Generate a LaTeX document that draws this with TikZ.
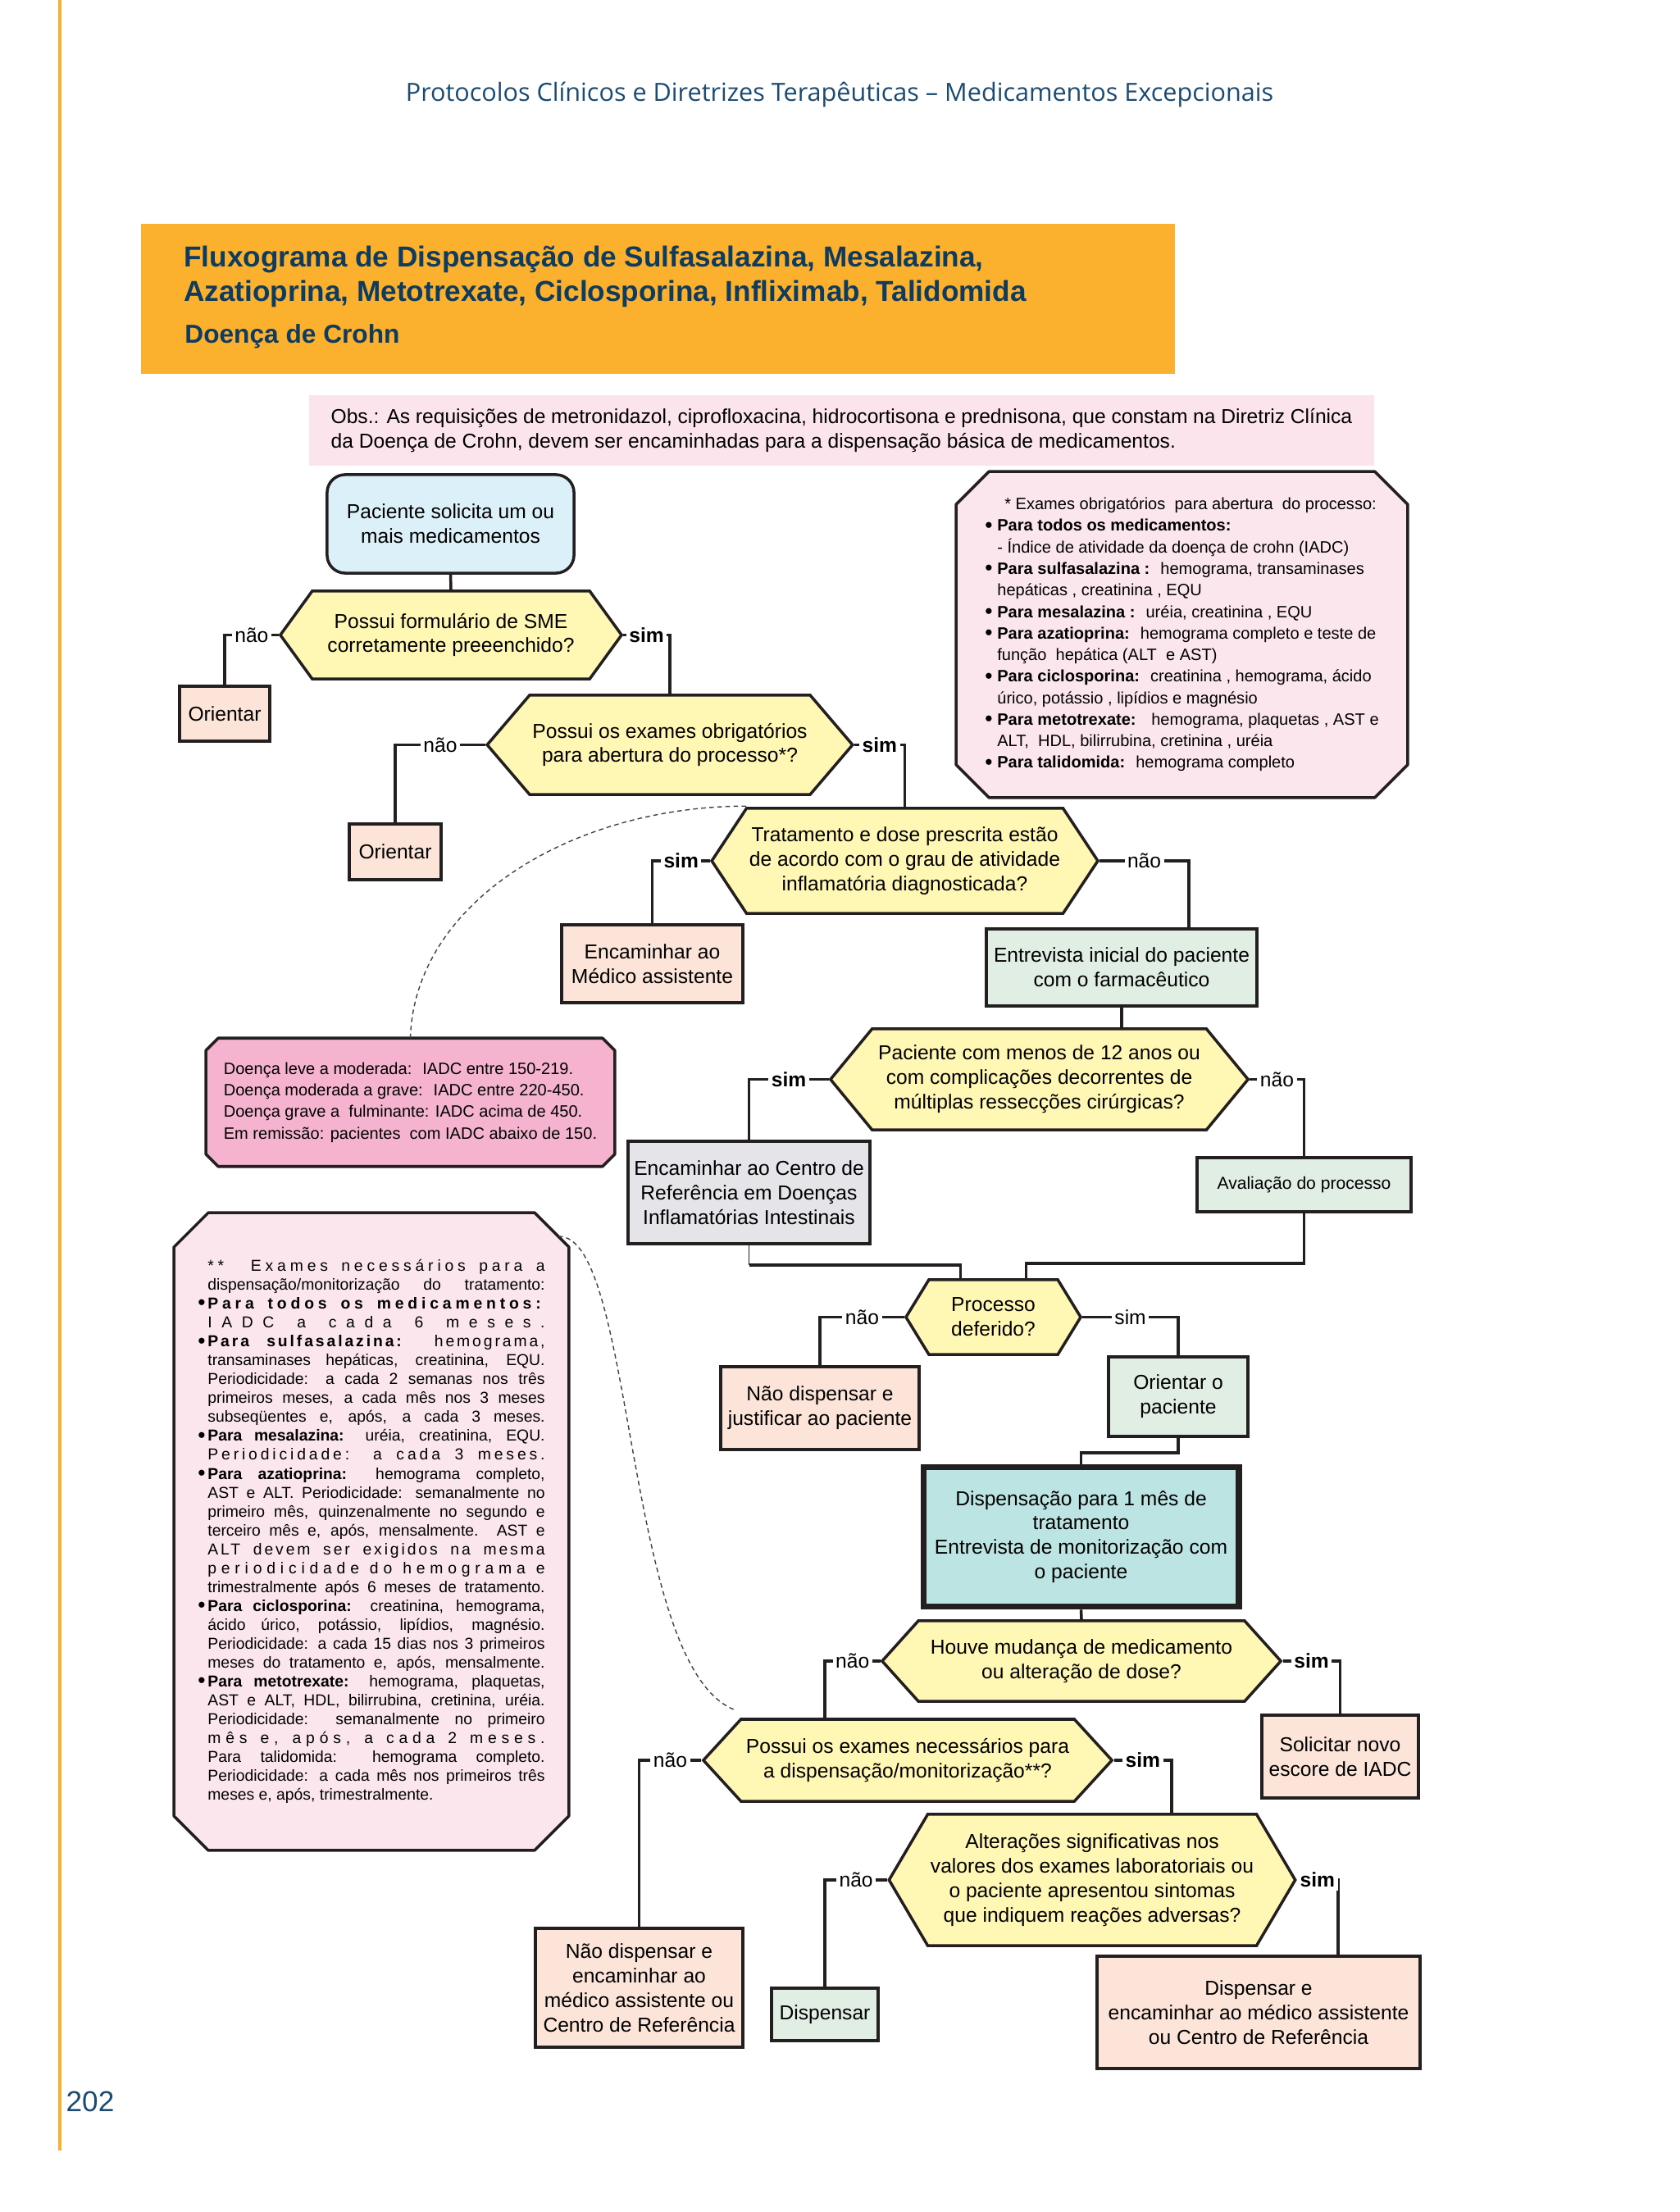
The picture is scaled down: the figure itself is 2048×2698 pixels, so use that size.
\documentclass[tikz,border=0pt]{standalone}
\usepackage{fontspec}
\setmainfont{Liberation Sans}
\newfontfamily\headfont{Open Sans}
\usetikzlibrary{shapes.symbols, calc, backgrounds}

\definecolor{ink}{HTML}{231F20}
\definecolor{navy}{HTML}{0F3B5F}
\definecolor{headblue}{HTML}{1B4A72}
\definecolor{orangebar}{HTML}{FBB12D}
\definecolor{obspink}{HTML}{FCE4EC}
\definecolor{startblue}{HTML}{DCF0FA}
\definecolor{askyellow}{HTML}{FFF7B3}
\definecolor{peach}{HTML}{FCE4D8}
\definecolor{mint}{HTML}{E0EEE4}
\definecolor{greybox}{HTML}{E4E4E9}
\definecolor{tealbox}{HTML}{BCE4E2}
\definecolor{notepink}{HTML}{FCE6EE}
\definecolor{iadcpink}{HTML}{F5B3CF}

\newcommand{\nodefont}{\fontsize{7}{8.5}\selectfont}
\newcommand{\notefont}{\fontsize{5.7}{7.47}\selectfont}
\newcommand{\tinynotefont}{\fontsize{5.5}{6.55}\selectfont}
\newcommand{\bigdot}{\raisebox{-0.12ex}{\fontsize{7.5}{7.5}\selectfont\textbullet}}
\newcommand{\noteitem}[1]{\makebox[0.12cm][l]{\bigdot}\makebox[4.11cm][s]{#1}}
\newcommand{\noteline}[1]{\hspace*{0.12cm}\makebox[4.11cm][s]{#1}}
\newcommand{\spaced}[2]{{\addfontfeature{LetterSpace=#1}#2}}
\newcommand{\examitem}[1]{\makebox[0.15cm][l]{\bigdot}#1}
\newcommand{\examline}[1]{\hspace*{0.15cm}#1}
% octagon round a named note node: name, cut, fill
\newcommand{\cutbox}[3]{%
  \filldraw[fill=#3, draw=ink, line width=1pt, line join=round]
    ($(#1.north west)+(#2,0)$) -- ($(#1.north east)+(-#2,0)$) -- ($(#1.north east)+(0,#2)$)
    -- ($(#1.south east)+(0,-#2)$) -- ($(#1.south east)+(-#2,0)$) -- ($(#1.south west)+(#2,0)$)
    -- ($(#1.south west)+(0,-#2)$) -- ($(#1.north west)+(0,#2)$) -- cycle;}

\tikzset{
  base/.style={draw=ink, line width=1pt, font=\nodefont, align=center, inner sep=1pt},
  startbox/.style={base, rectangle, rounded corners=0.22cm, fill=startblue},
  procbox/.style={base, rectangle, fill=peach},
  mintbox/.style={base, rectangle, fill=mint},
  decision/.style={base, shape=signal, signal to=west and east, signal pointer angle=100, fill=askyellow},
  notetext/.style={rectangle, inner sep=0pt, align=left},
  link/.style={draw=ink, line width=1pt},
  simlabel/.style={fill=white, inner sep=1pt, font=\nodefont\bfseries},
  naolabel/.style={fill=white, inner sep=1pt, font=\nodefont},
  hint/.style={draw=ink!85, line width=0.4pt, dash pattern=on 1.6pt off 1.2pt},
}

\begin{document}
\begin{tikzpicture}[x=0.01cm, y=-0.01cm]
    % Page frame
    \useasboundingbox (0,0) rectangle (2048,2698);
    \draw[orangebar, line width=0.04cm] (73,0) -- (73,2623);
    \node[font=\headfont\fontsize{8.7}{11}\selectfont, text=headblue] (header) at (1024,115) {Protocolos Clínicos e Diretrizes Terapêuticas – Medicamentos Excepcionais};
    \node[font=\fontsize{10}{12}\selectfont, text=headblue] (pagenum) at (110,2563) {202};

    % Title block
    \node[fill=orangebar, minimum width=12.61cm, minimum height=1.83cm] (titlebox) at (802.5,364.5) {};
    \node[anchor=west, align=left, text=navy, font=\fontsize{10}{12}\selectfont\bfseries] (title) at (212,337.5) {Fluxograma de Dispensação de Sulfasalazina, Mesalazina,\\Azatioprina, Metotrexate, Ciclosporina, Infliximab, Talidomida};
    \node[anchor=west, text=navy, font=\fontsize{9}{11}\selectfont\bfseries] (subtitle) at (213,410) {Doença de Crohn};

    % Observation
    \node[fill=obspink, minimum width=12.99cm, minimum height=0.86cm, align=left, font=\nodefont] (obs) at (1026.5,525) {\makebox[12.45cm][s]{Obs.: As requisições de metronidazol, ciprofloxacina, hidrocortisona e prednisona, que constam na Diretriz Clínica}\\da Doença de Crohn, devem ser encaminhadas para a dispensação básica de medicamentos.};

    % Flow nodes
    \node[startbox, minimum width=3.01cm, minimum height=1.20cm] (start) at (549.5,639) {Paciente solicita um ou\\mais medicamentos};
    \node[decision, signal pointer angle=108, minimum width=4.16cm, minimum height=1.07cm] (d1) at (550,774.5) {Possui formulário de SME\\corretamente preeenchido?};
    \node[procbox, minimum width=1.10cm, minimum height=0.67cm] (or1) at (274,870.5) {Orientar};
    \node[decision, signal pointer angle=99, minimum width=4.44cm, minimum height=1.21cm] (d2) at (817,908.5) {Possui os exames obrigatórios\\para abertura do processo*?};
    \node[procbox, minimum width=1.12cm, minimum height=0.68cm] (or2) at (482,1039) {Orientar};
    \node[decision, signal pointer angle=113, minimum width=4.69cm, minimum height=1.28cm] (d3) at (1103.5,1050) {Tratamento e dose prescrita estão\\de acordo com o grau de atividade\\inflamatória diagnosticada?};
    \node[procbox, minimum width=2.21cm, minimum height=0.95cm] (medico) at (795.5,1175.5) {Encaminhar ao\\Médico assistente};
    \node[mintbox, minimum width=3.30cm, minimum height=0.94cm] (entrev) at (1368,1180) {Entrevista inicial do paciente\\com o farmacêutico};
    \node[decision, signal pointer angle=101, minimum width=5.09cm, minimum height=1.23cm] (d4) at (1267.5,1316.5) {Paciente com menos de 12 anos ou\\com complicações decorrentes de\\múltiplas ressecções cirúrgicas?};
    \node[base, fill=greybox, minimum width=2.95cm, minimum height=1.25cm] (centro) at (913.5,1454.5) {Encaminhar ao Centro de\\Referência em Doenças\\Inflamatórias Intestinais};
    \node[mintbox, font=\fontsize{6}{7.5}\selectfont, minimum width=2.61cm, minimum height=0.66cm] (aval) at (1590.5,1445) {Avaliação do processo};
    \node[decision, signal pointer angle=117, minimum width=2.13cm, minimum height=0.91cm] (d5) at (1211.5,1606.5) {Processo\\deferido?};
    \node[procbox, minimum width=2.42cm, minimum height=1.01cm] (naojust) at (1000,1717.5) {Não dispensar e\\justificar ao paciente};
    \node[mintbox, minimum width=1.70cm, minimum height=0.97cm] (orientpac) at (1437,1703.5) {Orientar o\\paciente};
    \node[base, line width=2.2pt, fill=tealbox, minimum width=3.84cm, minimum height=1.70cm] (disp) at (1318.5,1874.5) {Dispensação para 1 mês de\\tratamento\\Entrevista de monitorização com\\o paciente};
    \node[decision, signal pointer angle=96, minimum width=4.86cm, minimum height=0.98cm] (d6) at (1319,2026) {Houve mudança de medicamento\\ou alteração de dose?};
    \node[procbox, minimum width=1.91cm, minimum height=1.01cm] (solic) at (1634.5,2142.5) {Solicitar novo\\escore de IADC};
    \node[decision, signal pointer angle=95, minimum width=4.98cm, minimum height=1.00cm] (d7) at (1107,2147) {Possui os exames necessários para\\a dispensação/monitorização**?};
    \node[procbox, minimum width=2.53cm, minimum height=1.45cm] (naoenc) at (779.5,2424.5) {Não dispensar e\\encaminhar ao\\médico assistente ou\\Centro de Referência};
    \node[decision, signal pointer angle=119, minimum width=4.84cm, minimum height=1.60cm] (d8) at (1332,2293) {Alterações significativas nos\\valores dos exames laboratoriais ou\\o paciente apresentou sintomas\\que indiquem reações adversas?};
    \node[mintbox, minimum width=1.30cm, minimum height=0.64cm] (dispensar) at (1006,2457) {Dispensar};
    \node[procbox, minimum width=3.94cm, minimum height=1.37cm] (dispenc) at (1535,2454.5) {Dispensar e\\encaminhar ao médico assistente\\ou Centro de Referência};

    % Notes
    \node[notetext, minimum width=5.49cm, minimum height=3.96cm, font=\notefont] (boxa) at (1441.5,774) {\hspace*{0.24cm}* Exames obrigatórios \ para abertura \ do processo:\\
\examitem{\textbf{Para todos os medicamentos:}}\\
\examline{- Índice de atividade da doença de crohn (IADC)}\\
\examitem{\textbf{Para sulfasalazina :} \ hemograma, transaminases}\\
\examline{hepáticas , creatinina , EQU}\\
\examitem{\textbf{Para mesalazina :} \ uréia, creatinina , EQU}\\
\examitem{\textbf{Para azatioprina:} \ hemograma completo e teste de}\\
\examline{função \ hepática (ALT \ e AST)}\\
\examitem{\textbf{Para ciclosporina:} \ creatinina , hemograma, ácido}\\
\examline{úrico, potássio , lipídios e magnésio}\\
\examitem{\textbf{Para metotrexate:} \ \ hemograma, plaquetas , AST e}\\
\examline{ALT, \ HDL, bilirrubina, cretinina , uréia}\\
\examitem{\textbf{Para talidomida:} \ hemograma completo}};
    \node[notetext, minimum width=4.97cm, minimum height=1.55cm, font=\notefont] (boxb) at (500.5,1344.5) {Doença leve a moderada: \ IADC entre 150-219.\\
Doença moderada a grave: \ IADC entre 220-450.\\
Doença grave a \ fulminante: IADC acima de 450.\\
Em remissão: pacientes \ com IADC abaixo de 150.};
    \node[notetext, minimum width=4.80cm, minimum height=7.76cm, font=\tinynotefont] (boxc) at (453,1868) {\noteline{\spaced{25}{**\ \ Exames necessários para a}}\\
\noteline{dispensação/monitorização do tratamento:}\\
\noteitem{\spaced{25}{\textbf{Para todos os medicamentos:}}}\\
\noteline{\spaced{60}{IADC a cada 6 meses.}}\\
\noteitem{\spaced{15}{\textbf{Para sulfasalazina:} hemograma,}}\\
\noteline{transaminases hepáticas, creatinina, EQU.}\\
\noteline{Periodicidade: a cada 2 semanas nos três}\\
\noteline{primeiros meses, a cada mês nos 3 meses}\\
\noteline{subseqüentes e, após, a cada 3 meses.}\\
\noteitem{\textbf{Para mesalazina:} uréia, creatinina, EQU.}\\
\noteline{\spaced{20}{Periodicidade: a cada 3 meses.}}\\
\noteitem{\textbf{Para azatioprina:} hemograma completo,}\\
\noteline{AST e ALT. Periodicidade: semanalmente no}\\
\noteline{primeiro mês, quinzenalmente no segundo e}\\
\noteline{terceiro mês e, após, mensalmente. AST e}\\
\noteline{\spaced{15}{ALT devem ser exigidos na mesma}}\\
\noteline{\spaced{30}{periodicidade do hemograma e}}\\
\noteline{trimestralmente após 6 meses de tratamento.}\\
\noteitem{\textbf{Para ciclosporina:} creatinina, hemograma,}\\
\noteline{ácido úrico, potássio, lipídios, magnésio.}\\
\noteline{Periodicidade: a cada 15 dias nos 3 primeiros}\\
\noteline{meses do tratamento e, após, mensalmente.}\\
\noteitem{\textbf{Para metotrexate:} hemograma, plaquetas,}\\
\noteline{AST e ALT, HDL, bilirrubina, cretinina, uréia.}\\
\noteline{Periodicidade: semanalmente no primeiro}\\
\noteline{\spaced{30}{mês e, após, a cada 2 meses.}}\\
\noteline{Para talidomida: hemograma completo.}\\
\noteline{Periodicidade: a cada mês nos primeiros três}\\
\hspace*{0.12cm}meses e, após, trimestralmente.};
    \begin{scope}[on background layer]
        \fill[white] (0,0) rectangle (2048,2698);
        \cutbox{boxa}{40}{notepink}
        \cutbox{boxb}{15}{iadcpink}
        \cutbox{boxc}{42}{notepink}
    \end{scope}

    % Connectors
    \draw[link] (start.south) -- (d1.north);
    \draw[link] (d1.west) -| node[naolabel, pos=0.25] {não} (or1.north);
    \draw[link] (d1.east) -| node[simlabel, pos=0.25] {sim} (d2.north);
    \draw[link] (d2.west) -| node[naolabel, pos=0.25] {não} (or2.north);
    \draw[link] (d2.east) -| node[simlabel, pos=0.25] {sim} (d3.north);
    \draw[link] (d3.west) -| node[simlabel, pos=0.25] {sim} (medico.north);
    \draw[link] (d3.east) -| node[naolabel, pos=0.25] {não} ([xshift=0.82cm]entrev.north);
    \draw[link] (entrev.south) -- (entrev.south |- d4.north);
    \draw[link] (d4.west) -| node[simlabel, pos=0.25] {sim} (centro.north);
    \draw[link] (d4.east) -| node[naolabel, pos=0.25] {não} (aval.north);
    \draw[link, line width=0.4pt] (centro.south) -- ++(0,24) coordinate (centrojoin);
    \draw[link] (centrojoin) -| ([xshift=-0.4cm]d5.north);
    \draw[link] (aval.south) -- ++(0,61) -| ([xshift=0.4cm]d5.north);
    \draw[link] (d5.west) -| node[naolabel, pos=0.25] {não} (naojust.north);
    \draw[link] (d5.east) -| node[naolabel, pos=0.25] {sim} (orientpac.north);
    \draw[link] (orientpac.south) -- ++(0,18) -| (disp.north);
    \draw[link] (disp.south) -- (d6.north);
    \draw[link] (d6.west) -| node[naolabel, pos=0.25] {não} ([xshift=-1.01cm]d7.north);
    \draw[link] (d6.east) -| node[simlabel, pos=0.25] {sim} (solic.north);
    \draw[link] (d7.west) -| node[naolabel, pos=0.25] {não} (naoenc.north);
    \draw[link] (d7.east) -| node[simlabel, pos=0.25] {sim} ([xshift=0.97cm]d8.north);
    \draw[link] (d8.west) -| node[naolabel, pos=0.25] {não} (dispensar.north);
    \draw[link] (d8.east) -| node[simlabel, pos=0.25] {sim} ([xshift=0.97cm]dispenc.north);

    % Dashed hints
    \draw[hint] (boxb.north) .. controls +(5,-167) and +(-211,0) .. ($(d3.north)+(-193,-1)$);
    \draw[hint] ($(boxc.east)+(-13,-360)$) .. controls +(95,-3) and +(-138,-48) .. ($(d7.north)+(-209,-9)$);
\end{tikzpicture}
\end{document}
